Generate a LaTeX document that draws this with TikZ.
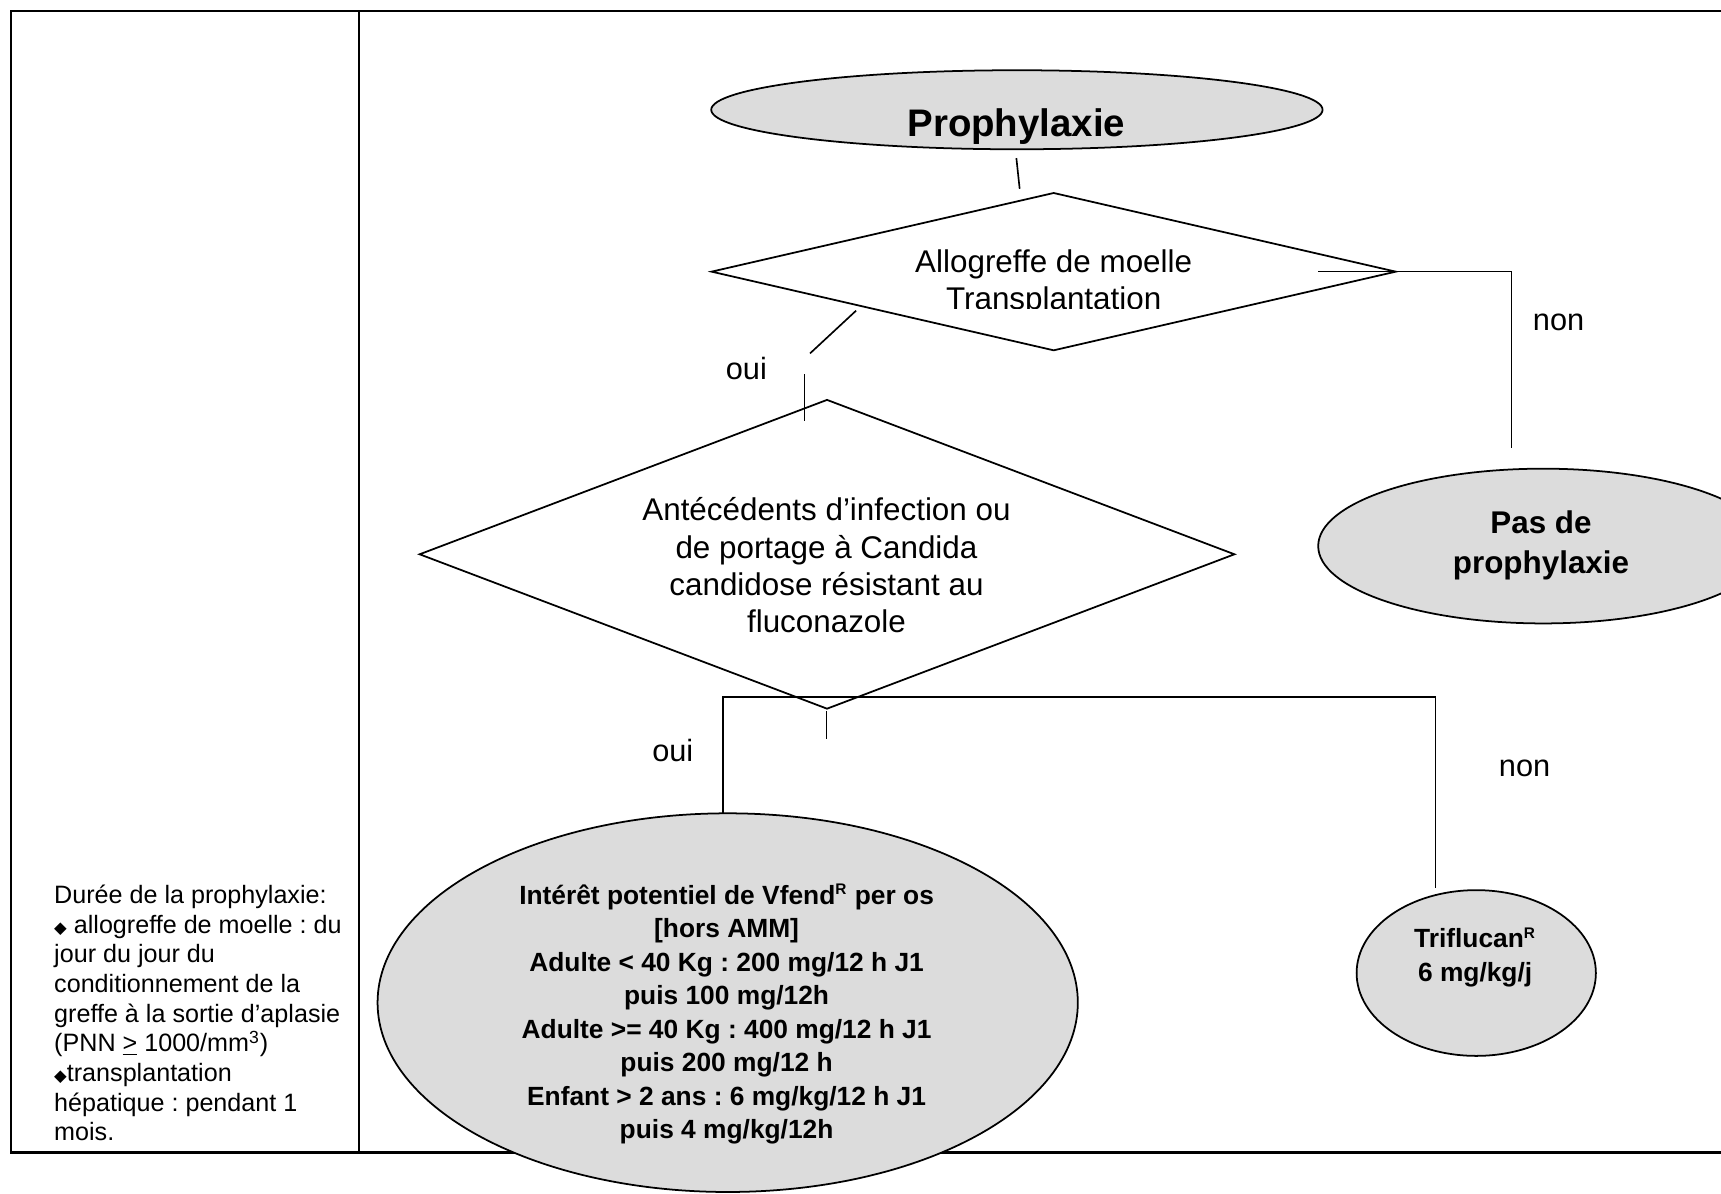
\documentclass[tikz,border=0pt]{standalone}
\usepackage{fontspec}
\setmainfont{Liberation Sans}
\newfontfamily\dejavu{DejaVu Sans}
\usetikzlibrary{shapes.geometric}
\definecolor{shade}{HTML}{DCDCDC}
\newcommand\bul{{\dejavu\fontsize{7.5}{7.5}\selectfont ◆}}
\newcommand\supR{\textsuperscript{\fontsize{7}{7}\selectfont R}}
\frenchspacing
\begin{document}
\begin{tikzpicture}[x=0.5pt,y=-0.5pt,
  frameline/.style={line width=1.1pt},
  conn/.style={line width=0.75pt},
  oval/.style={ellipse, draw, line width=0.8pt, fill=shade, inner sep=0pt},
  decision/.style={diamond, draw, line width=0.8pt, inner sep=0pt},
  lbl/.style={inner sep=0pt, font=\fontsize{14}{17}\selectfont},
  dtext/.style={inner sep=0pt, align=center, font=\fontsize{14.3}{17}\selectfont},
  btext/.style={inner sep=0pt, align=center, font=\bfseries\fontsize{12}{15.25}\selectfont}
  ]
\useasboundingbox (0,0) rectangle (1568,1087);
\clip (0,0) rectangle (1568,1087);

% frame
\draw[frameline] (1575,10) -- (10,10) -- (10,1050) -- (1575,1050);
\draw[frameline] (327,10) -- (327,1050);

% shapes
\node[oval, minimum width=278.5pt, minimum height=36pt] (proph) at (926.5,100) {};
\node[decision, minimum width=312pt, minimum height=72pt] (d1) at (960,247.5) {};
\node[decision, minimum width=371.5pt, minimum height=141pt] (d2) at (753.5,505) {};
\node[oval, minimum width=205pt, minimum height=70.5pt] (pas) at (1406,497.5) {};
\node[oval, minimum width=319pt, minimum height=172.5pt] (vf) at (663,913.5) {};
\node[oval, minimum width=109pt, minimum height=75.5pt] (tri) at (1345,886.5) {};

% connectors
\coordinate (a1) at (926,144); \coordinate (a2) at (929,172);
\draw[conn] (a1) -- (a2);
\coordinate (b1) at (1201,247.5); \coordinate (b2) at (1377,408);
\draw[conn] (b1) -| (b2);
\coordinate (c1) at (780,283); \coordinate (c2) at (738,322);
\draw[conn] (c1) -- (c2);
\coordinate (c3) at (733,341); \coordinate (c4) at (733,384);
\draw[conn] (c3) -- (c4);
\coordinate (e1) at (753,648); \coordinate (e2) at (753,673);
\draw[conn] (e1) -- (e2);
\coordinate (vtop) at (659,741); \coordinate (hr) at (1308,635); \coordinate (ttop) at (1308,809);
\draw[conn] (vtop) |- (hr) -- (ttop);

% texts
\node[inner sep=0pt, font=\bfseries\fontsize{17.5}{21}\selectfont] (prophT) at (926,115) {Prophylaxie};
\begin{scope}
\clip (640,200) rectangle (1280,281);
\node[dtext] (d1T) at (960,258) {Allogreffe de moelle\\Transplantation};
\end{scope}
\node[dtext] (d2T) at (753,515) {Antécédents d’infection ou\\de portage à Candida\\candidose résistant au\\fluconazole};
\node[inner sep=0pt, align=center, font=\bfseries\fontsize{14.3}{18}\selectfont] (pasT) at (1404,497) {Pas de\\prophylaxie};
\node[btext] (vfT) at (662,924) {Intérêt potentiel de Vfend\supR{} per os\\{[hors AMM]}\\Adulte < 40 Kg : 200 mg/12 h J1\\puis 100 mg/12h\\Adulte >= 40 Kg : 400 mg/12 h J1\\puis 200 mg/12 h\\Enfant > 2 ans : 6 mg/kg/12 h J1\\puis 4 mg/kg/12h};
\node[btext] (triT) at (1344,872) {Triflucan\supR\\6 mg/kg/j};

\node[lbl] (oui1) at (680,336) {oui};
\node[lbl] (non1) at (1420,294) {non};
\node[lbl] (oui2) at (613,684) {oui};
\node[lbl] (non2) at (1389,700) {non};

\node[anchor=west, align=left, inner sep=0pt, font=\fontsize{11.45}{13.5}\selectfont] (dur) at (49,923) {Durée de la prophylaxie:\\\bul\ allogreffe de moelle : du\\jour du jour du\\conditionnement de la\\greffe à la sortie d’aplasie\\(PNN \underline{>} 1000/mm\textsuperscript{3})\\\bul transplantation\\hépatique : pendant 1\\mois.};
\end{tikzpicture}
\end{document}
